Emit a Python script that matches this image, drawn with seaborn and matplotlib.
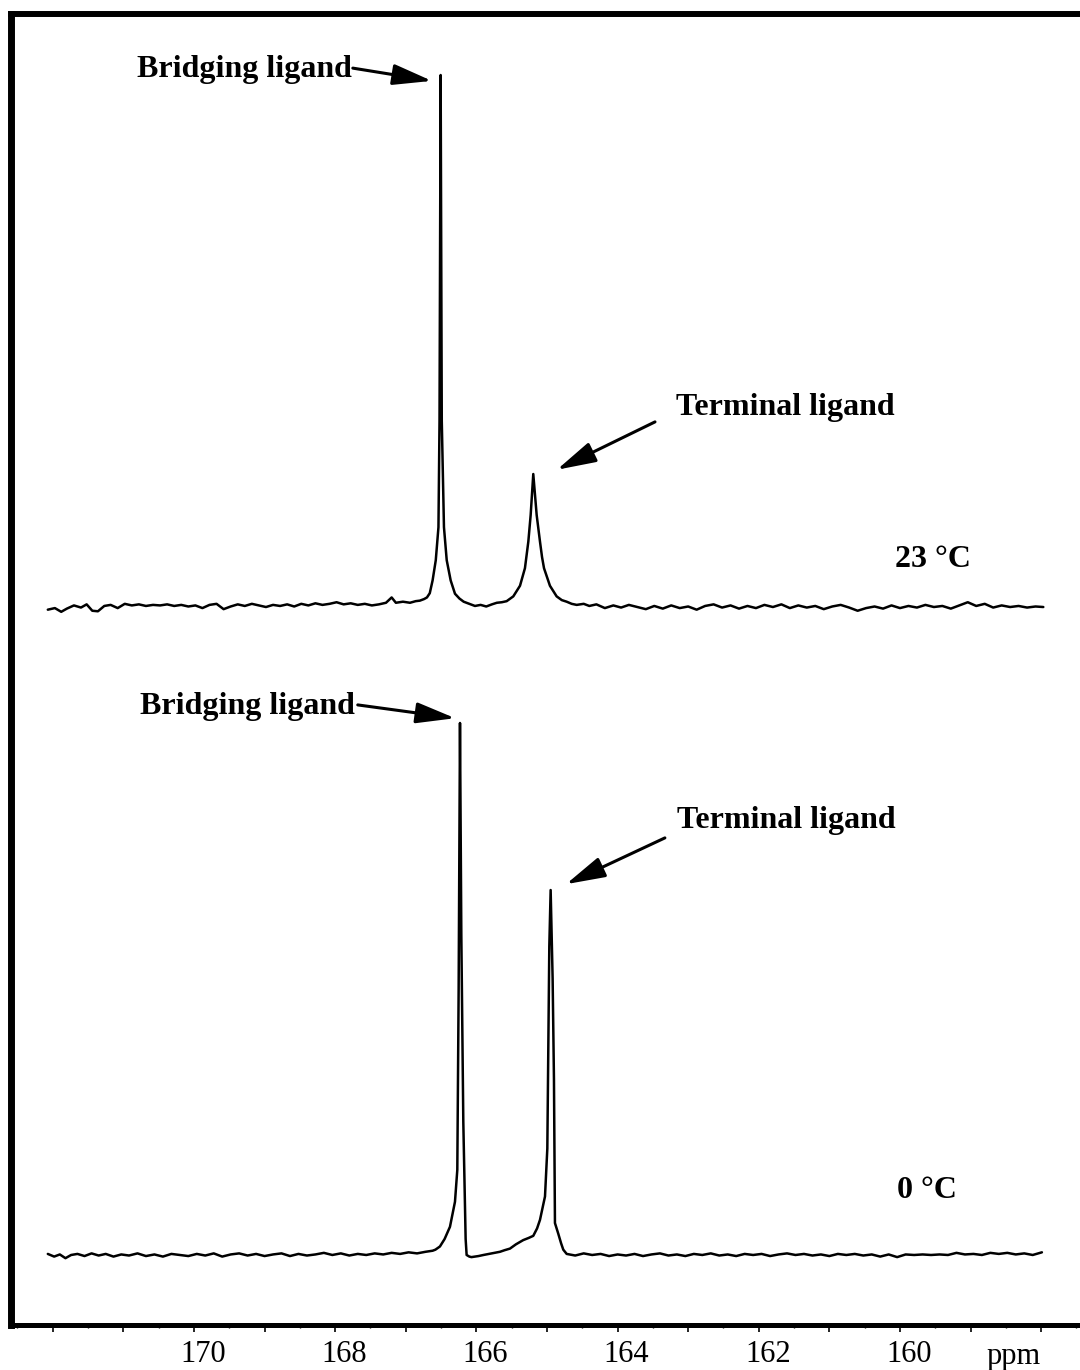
import matplotlib
matplotlib.use("Agg")
import matplotlib.pyplot as plt
import pandas as pd
import seaborn as sns
from matplotlib.ticker import FixedLocator, MultipleLocator
from matplotlib.transforms import ScaledTranslation

# 13C spectrum recorded at 23 °C: chemical shift (ppm) and intensity (% of bridging peak)
ppm_23C = [
    172.07, 171.97, 171.88, 171.80, 171.70, 171.60, 171.52, 171.44, 171.36, 171.27,
    171.18, 171.08, 170.98, 170.88, 170.78, 170.68, 170.58, 170.48, 170.38, 170.28,
    170.18, 170.08, 169.98, 169.88, 169.78, 169.68, 169.58, 169.48, 169.38, 169.28,
    169.18, 169.08, 168.98, 168.88, 168.78, 168.68, 168.58, 168.48, 168.38, 168.28,
    168.18, 168.08, 167.98, 167.88, 167.78, 167.68, 167.58, 167.48, 167.38, 167.28,
    167.20, 167.14, 167.04, 166.94, 166.86, 166.80, 166.74, 166.70, 166.66, 166.62,
    166.575, 166.537, 166.522, 166.513, 166.506, 166.499, 166.490, 166.459, 166.420, 166.364,
    166.303, 166.24, 166.18, 166.10, 166.02, 165.94, 165.86, 165.78, 165.71, 165.64,
    165.571, 165.477, 165.382, 165.312, 165.264, 165.231, 165.194, 165.146, 165.099, 165.07,
    165.042, 164.958, 164.863, 164.79, 164.721, 164.65, 164.579,
    164.48, 164.40, 164.30, 164.18, 164.06, 163.95, 163.84, 163.72, 163.60, 163.48,
    163.36, 163.24, 163.12, 163.00, 162.88, 162.76, 162.64, 162.52, 162.40, 162.28,
    162.16, 162.04, 161.92, 161.80, 161.68, 161.56, 161.44, 161.32, 161.20, 161.08,
    160.96, 160.84, 160.72, 160.60, 160.48, 160.36, 160.24, 160.12, 160.00, 159.88,
    159.76, 159.64, 159.52, 159.40, 159.28, 159.16, 159.04, 158.92, 158.80, 158.68,
    158.56, 158.44, 158.32, 158.20, 158.08, 157.97,
]
int_23C = [
    -0.5, -0.2, -0.9, -0.3, 0.3, -0.1, 0.5, -0.7, -0.8, 0.2,
    0.4, -0.2, 0.6, 0.3, 0.5, 0.2, 0.4, 0.3, 0.5, 0.2,
    0.4, 0.1, 0.3, -0.2, 0.4, 0.6, -0.4, 0.1, 0.5, 0.2,
    0.6, 0.3, 0.0, 0.4, 0.2, 0.5, 0.1, 0.6, 0.3, 0.7,
    0.4, 0.6, 0.9, 0.5, 0.7, 0.4, 0.6, 0.3, 0.5, 0.8,
    1.8, 0.8, 1.0, 0.8, 1.1, 1.2, 1.5, 1.8, 2.6, 5.0,
    8.8, 15.0, 35.0, 70.0, 100.0, 70.0, 35.0, 15.0, 8.8, 5.0,
    2.5, 1.6, 1.0, 0.6, 0.2, 0.4, 0.1, 0.5, 0.8, 0.9,
    1.1, 2.0, 4.0, 7.3, 12.3, 17.3, 25.0, 17.3, 12.3, 9.4,
    7.3, 4.0, 2.0, 1.3, 1.0, 0.6, 0.4,
    0.6, 0.2, 0.5, -0.2, 0.3, -0.1, 0.4, 0.0, -0.4, 0.2,
    -0.3, 0.3, -0.2, 0.1, -0.5, 0.2, 0.5, -0.1, 0.3, -0.3,
    0.2, -0.2, 0.4, 0.0, 0.5, -0.2, 0.3, -0.1, 0.2, -0.4,
    0.1, 0.4, -0.1, -0.7, -0.2, 0.1, -0.3, 0.3, -0.2, 0.2,
    -0.1, 0.4, 0.0, 0.2, -0.3, 0.3, 0.9, 0.2, 0.6, -0.1,
    0.3, 0.0, 0.2, -0.1, 0.1, 0.0,
]

# 13C spectrum recorded at 0 °C
ppm_0C = [
    172.07, 171.98, 171.90, 171.82, 171.74, 171.65, 171.55, 171.45, 171.35, 171.25,
    171.14, 171.03, 170.92, 170.80, 170.68, 170.56, 170.44, 170.32, 170.20, 170.08,
    169.96, 169.84, 169.72, 169.60, 169.48, 169.36, 169.24, 169.12, 169.00, 168.88,
    168.76, 168.64, 168.52, 168.40, 168.28, 168.16, 168.04, 167.92, 167.80, 167.68,
    167.56, 167.44, 167.32, 167.20, 167.08, 166.96, 166.84, 166.72, 166.62, 166.58,
    166.516, 166.45, 166.374, 166.303, 166.27, 166.251, 166.232, 166.213, 166.185, 166.152,
    166.138, 166.10, 166.07, 166.02, 165.97, 165.90, 165.82, 165.74, 165.666, 165.60,
    165.524, 165.44, 165.336, 165.26, 165.194, 165.14, 165.099, 165.028, 164.995, 164.981,
    164.967, 164.948, 164.920, 164.901, 164.887, 164.840, 164.80, 164.769, 164.721,
    164.60, 164.48, 164.36, 164.24, 164.12, 164.00, 163.88, 163.76, 163.64, 163.52,
    163.40, 163.28, 163.16, 163.04, 162.92, 162.80, 162.68, 162.56, 162.44, 162.32,
    162.20, 162.08, 161.96, 161.84, 161.72, 161.60, 161.48, 161.36, 161.24, 161.12,
    161.00, 160.88, 160.76, 160.64, 160.52, 160.40, 160.28, 160.16, 160.04, 159.92,
    159.80, 159.68, 159.56, 159.44, 159.32, 159.20, 159.08, 158.96, 158.84, 158.72,
    158.60, 158.48, 158.36, 158.24, 158.12, 157.99,
]
int_0C = [
    0.2, -0.3, 0.1, -0.6, 0.0, 0.2, -0.2, 0.3, -0.1, 0.2,
    -0.3, 0.1, -0.1, 0.3, -0.2, 0.1, -0.3, 0.2, 0.0, -0.2,
    0.2, -0.1, 0.3, -0.3, 0.1, 0.3, -0.1, 0.2, -0.2, 0.1,
    0.3, -0.2, 0.2, -0.1, 0.1, 0.4, 0.0, 0.3, -0.1, 0.2,
    0.0, 0.3, 0.1, 0.4, 0.2, 0.5, 0.3, 0.6, 0.8, 1.0,
    1.6, 3.0, 5.3, 10.0, 16.0, 50.0, 100.0, 60.0, 25.0, 3.0,
    0.0, -0.3, -0.4, -0.3, -0.2, 0.0, 0.2, 0.4, 0.6, 0.9,
    1.2, 2.0, 2.8, 3.2, 3.6, 5.0, 6.6, 11.0, 20.0, 39.0,
    58.0, 68.6, 52.0, 33.0, 6.0, 4.0, 2.2, 1.0, 0.2,
    -0.1, 0.3, 0.0, 0.2, -0.2, 0.1, -0.1, 0.2, -0.2, 0.1,
    0.3, -0.1, 0.1, -0.2, 0.2, 0.0, 0.3, -0.1, 0.1, -0.2,
    0.2, 0.0, 0.2, -0.2, 0.1, 0.3, 0.0, 0.2, -0.1, 0.1,
    -0.2, 0.2, 0.0, 0.2, -0.1, 0.1, -0.3, 0.1, -0.4, 0.1,
    0.0, 0.1, 0.0, 0.1, 0.0, 0.4, 0.1, 0.2, 0.0, 0.4,
    0.2, 0.4, 0.1, 0.3, 0.0, 0.5,
]

tick_ppm = [170, 168, 166, 164, 162, 160]
tick_text = ["170", "168", "166", "164", "162", "160"]
temp_labels = ["23 °C", "0 °C"]
peak_labels = ["Bridging ligand", "Terminal ligand"]

# vertical stacking of the two traces (intensity units)
offset_23C = 121.8
offset_0C = 0.0

sns.set_theme(style="white")
plt.rcParams["font.family"] = ["Liberation Serif", "DejaVu Serif"]
plt.rcParams["text.color"] = "black"

fig = plt.figure(figsize=(10.8, 13.7), dpi=100)
ax = fig.add_axes([0.0106, 0.03285, 0.994, 0.95657])

df_23 = pd.DataFrame({"ppm": ppm_23C, "intensity": [v + offset_23C for v in int_23C]})
df_0 = pd.DataFrame({"ppm": ppm_0C, "intensity": [v + offset_0C for v in int_0C]})

for df in (df_23, df_0):
    sns.lineplot(data=df, x="ppm", y="intensity", ax=ax, color="black",
                 linewidth=1.8, estimator=None, sort=False)

ax.set_xlim(172.585, 157.38)
ax.set_ylim(-13.16, 233.18)
ax.set_xlabel("")
ax.set_ylabel("")
ax.set_yticks([])

# x ticks: labelled every 2 ppm, plain every 1 ppm, small every 0.5 ppm
major = list(range(158, 173))
ax.xaxis.set_major_locator(FixedLocator(major))
ax.set_xticklabels([tick_text[tick_ppm.index(m)] if m in tick_ppm else "" for m in major])
ax.xaxis.set_minor_locator(MultipleLocator(0.5))
ax.tick_params(axis="x", which="major", direction="out", length=5, width=1.2,
               labelsize=22, pad=6, colors="black", bottom=True)
ax.tick_params(axis="x", which="minor", direction="out", length=2.5, width=1.0,
               bottom=True, colors="black")
# the printed numbers sit slightly to the right of their ticks
shift = ScaledTranslation(0.09, 0, fig.dpi_scale_trans)
for lab in ax.get_xticklabels():
    lab.set_transform(lab.get_transform() + shift)

for side, lw in (("left", 5.0), ("top", 4.3), ("bottom", 3.6), ("right", 4.3)):
    ax.spines[side].set_visible(True)
    ax.spines[side].set_linewidth(lw)
    ax.spines[side].set_color("black")

ax.text(158.77, -0.0298, "ppm", transform=ax.get_xaxis_transform(),
        fontsize=22, ha="left", va="baseline", color="black")

label_kw = dict(fontsize=23, fontweight="bold", ha="left", va="baseline", color="black")
arrow_kw = dict(arrowstyle="-|>,head_length=1.2,head_width=0.32", color="black",
                lw=2.2, shrinkA=0, shrinkB=0, mutation_scale=20)

# 23 °C annotations
ax.text(170.807, 221.4, peak_labels[0], **label_kw)
ax.annotate("", xy=(166.63, 220.7), xytext=(167.75, 223.1), arrowprops=arrow_kw)
ax.text(163.17, 157.9, peak_labels[1], **label_kw)
ax.annotate("", xy=(164.86, 147.6), xytext=(163.47, 156.6), arrowprops=arrow_kw)
ax.text(160.07, 129.3, temp_labels[0], **label_kw)

# 0 °C annotations
ax.text(170.765, 101.7, peak_labels[0], **label_kw)
ax.annotate("", xy=(166.30, 100.9), xytext=(167.68, 103.4), arrowprops=arrow_kw)
ax.text(163.16, 80.3, peak_labels[1], **label_kw)
ax.annotate("", xy=(164.73, 69.7), xytext=(163.33, 78.4), arrowprops=arrow_kw)
ax.text(160.04, 10.7, temp_labels[1], **label_kw)

fig.savefig("out.png", dpi=100)
